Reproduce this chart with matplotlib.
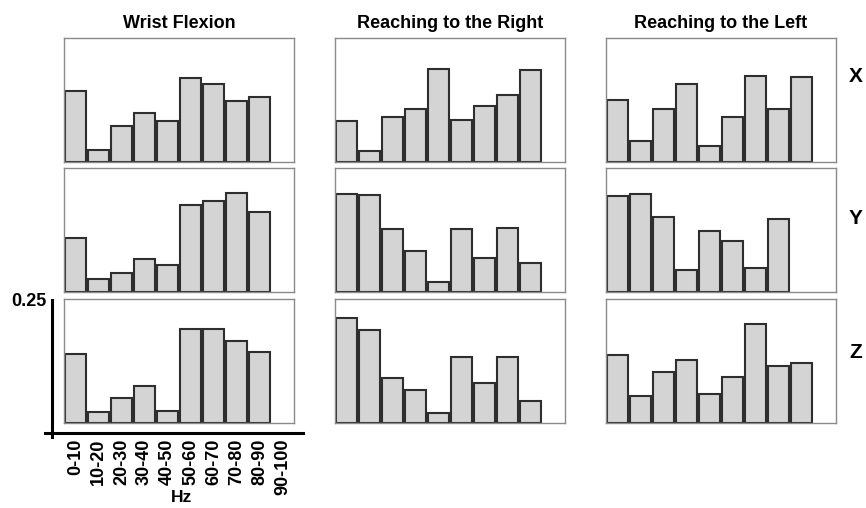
import matplotlib
matplotlib.use("Agg")
import matplotlib.pyplot as plt
from matplotlib.lines import Line2D

plt.rcParams['font.family'] = ['Liberation Sans', 'DejaVu Sans']

# bandes de fréquence
bands = ["0-10", "10-20", "20-30", "30-40", "40-50", "50-60", "60-70", "70-80", "80-90", "90-100"]
tasks = ["Wrist Flexion", "Reaching to the Right", "Reaching to the Left"]
axes_names = ["X", "Y", "Z"]

# valeurs (echelle 0 - 0.25)
wrist_x = [0.144, 0.024, 0.073, 0.099, 0.083, 0.169, 0.157, 0.122, 0.132]
wrist_y = [0.108, 0.026, 0.039, 0.066, 0.055, 0.175, 0.183, 0.199, 0.161]
wrist_z = [0.139, 0.023, 0.050, 0.075, 0.025, 0.190, 0.190, 0.166, 0.144]

right_x = [0.083, 0.022, 0.090, 0.106, 0.188, 0.085, 0.112, 0.135, 0.185]
right_y = [0.198, 0.195, 0.128, 0.082, 0.021, 0.128, 0.069, 0.129, 0.059]
right_z = [0.211, 0.188, 0.090, 0.066, 0.021, 0.134, 0.080, 0.134, 0.044]

left_x = [0.124, 0.042, 0.106, 0.158, 0.032, 0.091, 0.173, 0.106, 0.171]
left_y = [0.193, 0.197, 0.151, 0.045, 0.122, 0.102, 0.049, 0.147]
left_z = [0.138, 0.054, 0.103, 0.127, 0.058, 0.092, 0.199, 0.115, 0.121]

data = [[wrist_x, right_x, left_x],
        [wrist_y, right_y, left_y],
        [wrist_z, right_z, left_z]]

W, H = 866, 508
fig = plt.figure(figsize=(W / 100, H / 100), dpi=100)

col_left = [64, 335, 606]
col_w = 230
row_top = [38, 168, 299]
row_h = 124

panels = []
for r in range(3):
    for c in range(3):
        ax = fig.add_axes([col_left[c] / W, 1 - (row_top[r] + row_h) / H, col_w / W, row_h / H])
        vals = data[r][c]
        ax.bar(range(len(vals)), vals, width=0.9, color="#d4d4d4",
               edgecolor="#2e2e2e", linewidth=1.5, align="center")
        ax.set_xlim(-0.5, 9.5)
        ax.set_ylim(0, 0.25)
        ax.set_yticks([])
        ax.set_xticks([])
        for s in ax.spines.values():
            s.set_color("#8a8a8a")
            s.set_linewidth(1.0)
        panels.append(ax)
        if r == 0:
            ax.set_title(tasks[c], fontsize=13, fontweight="bold", pad=7)

# étiquettes X, Y, Z
for r, name in enumerate(axes_names):
    fig.text(856 / W, 1 - [77, 218, 352][r] / H, name, fontsize=15, fontweight="bold",
             ha="center", va="center")

# axe commun en bas à gauche
ax0 = panels[6]
ax0.set_xticks(range(len(bands)))
ax0.set_xticklabels(bands, rotation=90, fontsize=13, fontweight="bold")
ax0.tick_params(axis="x", length=0, pad=11)

fig.add_artist(Line2D([52 / W, 52 / W], [1 - 300 / H, 1 - 437 / H], color="black", linewidth=2.2))
fig.add_artist(Line2D([45 / W, 303 / W], [1 - 433 / H, 1 - 433 / H], color="black", linewidth=2.2))
fig.text(46 / W, 1 - 302 / H, "0.25", fontsize=13, fontweight="bold", ha="right", va="center")
fig.text(181 / W, 1 - 502 / H, "Hz", fontsize=12.5, fontweight="bold", ha="center", va="baseline")

fig.savefig("out.png", dpi=100)
